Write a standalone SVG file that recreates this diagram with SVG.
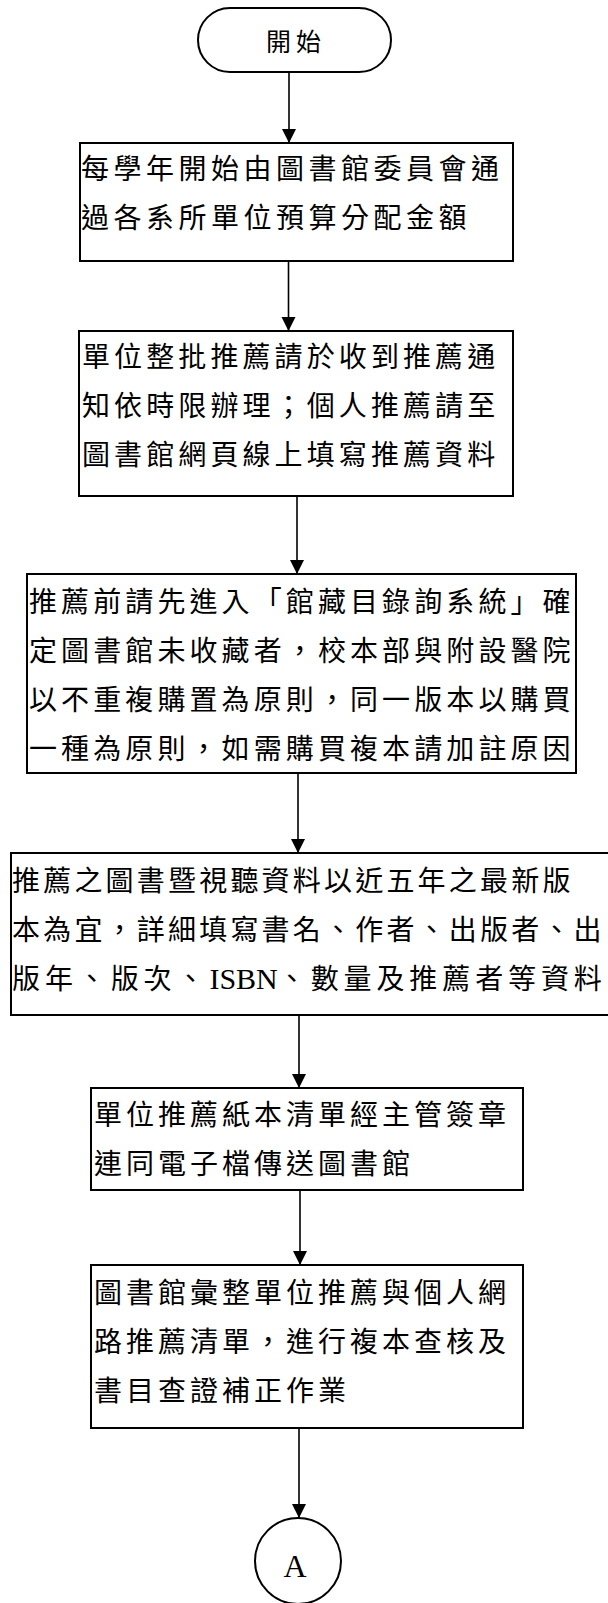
<svg xmlns="http://www.w3.org/2000/svg" width="608" height="1603" viewBox="0 0 608 1603">
<style>
.box{fill:#fff;stroke:#000;stroke-width:2}
.t{font-family:"Liberation Serif","Noto Sans CJK TC",serif;font-size:28px;fill:#000}
.conn{stroke:#000;stroke-width:1.6;fill:none}
</style>
<defs>
<marker id="arr" viewBox="0 0 14 15" refX="14" refY="7.5" markerWidth="14" markerHeight="15" markerUnits="userSpaceOnUse" orient="auto">
<path d="M0,0.5 L14,7.5 L0,14.5 z" fill="#000"/>
</marker>
</defs>
<rect width="608" height="1603" fill="#fff"/>
<g id="connectors">
<line class="conn" x1="289" y1="72" x2="289" y2="143" marker-end="url(#arr)"/>
<line class="conn" x1="288.5" y1="261" x2="288.5" y2="331" marker-end="url(#arr)"/>
<line class="conn" x1="297" y1="496" x2="297" y2="574" marker-end="url(#arr)"/>
<line class="conn" x1="298" y1="773" x2="298" y2="853" marker-end="url(#arr)"/>
<line class="conn" x1="299" y1="1015" x2="299" y2="1088" marker-end="url(#arr)"/>
<line class="conn" x1="300" y1="1190" x2="300" y2="1265" marker-end="url(#arr)"/>
<line class="conn" x1="299" y1="1428" x2="299" y2="1518" marker-end="url(#arr)"/>
</g>
<g id="start">
<rect class="box" x="198" y="8" width="193" height="64" rx="32" ry="32"/>
<text class="t" x="266" y="51" style="font-size:25px;letter-spacing:5px">開始</text>
</g>
<g id="step1">
<rect class="box" x="80" y="143" width="433" height="118"/>
<text class="t" x="81" y="179" style="letter-spacing:4.5px">每學年開始由圖書館委員會通</text>
<text class="t" x="81" y="228" style="letter-spacing:4.5px">過各系所單位預算分配金額</text>
</g>
<g id="step2">
<rect class="box" x="79" y="331" width="434" height="165"/>
<text class="t" x="82" y="367" style="letter-spacing:4.1px">單位整批推薦請於收到推薦通</text>
<text class="t" x="82" y="416" style="letter-spacing:4.1px">知依時限辦理；個人推薦請至</text>
<text class="t" x="82" y="465" style="letter-spacing:4.1px">圖書館網頁線上填寫推薦資料</text>
</g>
<g id="step3">
<rect class="box" x="27" y="574" width="549" height="199"/>
<text class="t" x="29" y="612" style="letter-spacing:4.1px">推薦前請先進入「館藏目錄詢系統」確</text>
<text class="t" x="29" y="661" style="letter-spacing:4.1px">定圖書館未收藏者，校本部與附設醫院</text>
<text class="t" x="29" y="710" style="letter-spacing:4.1px">以不重複購置為原則，同一版本以購買</text>
<text class="t" x="29" y="759" style="letter-spacing:4.1px">一種為原則，如需購買複本請加註原因</text>
</g>
<g id="step4">
<rect class="box" x="11" y="853" width="620" height="162"/>
<text class="t" x="12" y="891" style="letter-spacing:3.2px">推薦之圖書暨視聽資料以近五年之最新版</text>
<text class="t" x="12" y="940" style="letter-spacing:3.2px">本為宜，詳細填寫書名、作者、出版者、出</text>
<text class="t" x="12" y="989" style="letter-spacing:4.9px">版年、版次、<tspan style="letter-spacing:0px;font-size:30px">ISBN</tspan>、數量及推薦者等資料</text>
</g>
<g id="step5">
<rect class="box" x="91" y="1088" width="432" height="102"/>
<text class="t" x="94" y="1125" style="letter-spacing:4px">單位推薦紙本清單經主管簽章</text>
<text class="t" x="94" y="1174" style="letter-spacing:4px">連同電子檔傳送圖書館</text>
</g>
<g id="step6">
<rect class="box" x="91" y="1265" width="432" height="163"/>
<text class="t" x="94" y="1303" style="letter-spacing:4px">圖書館彙整單位推薦與個人網</text>
<text class="t" x="94" y="1352" style="letter-spacing:4px">路推薦清單，進行複本查核及</text>
<text class="t" x="94" y="1401" style="letter-spacing:4px">書目查證補正作業</text>
</g>
<g id="connectorA">
<circle class="box" cx="298" cy="1561" r="43"/>
<text class="t" x="295" y="1577" text-anchor="middle" style="font-size:32px">A</text>
</g>
</svg>
